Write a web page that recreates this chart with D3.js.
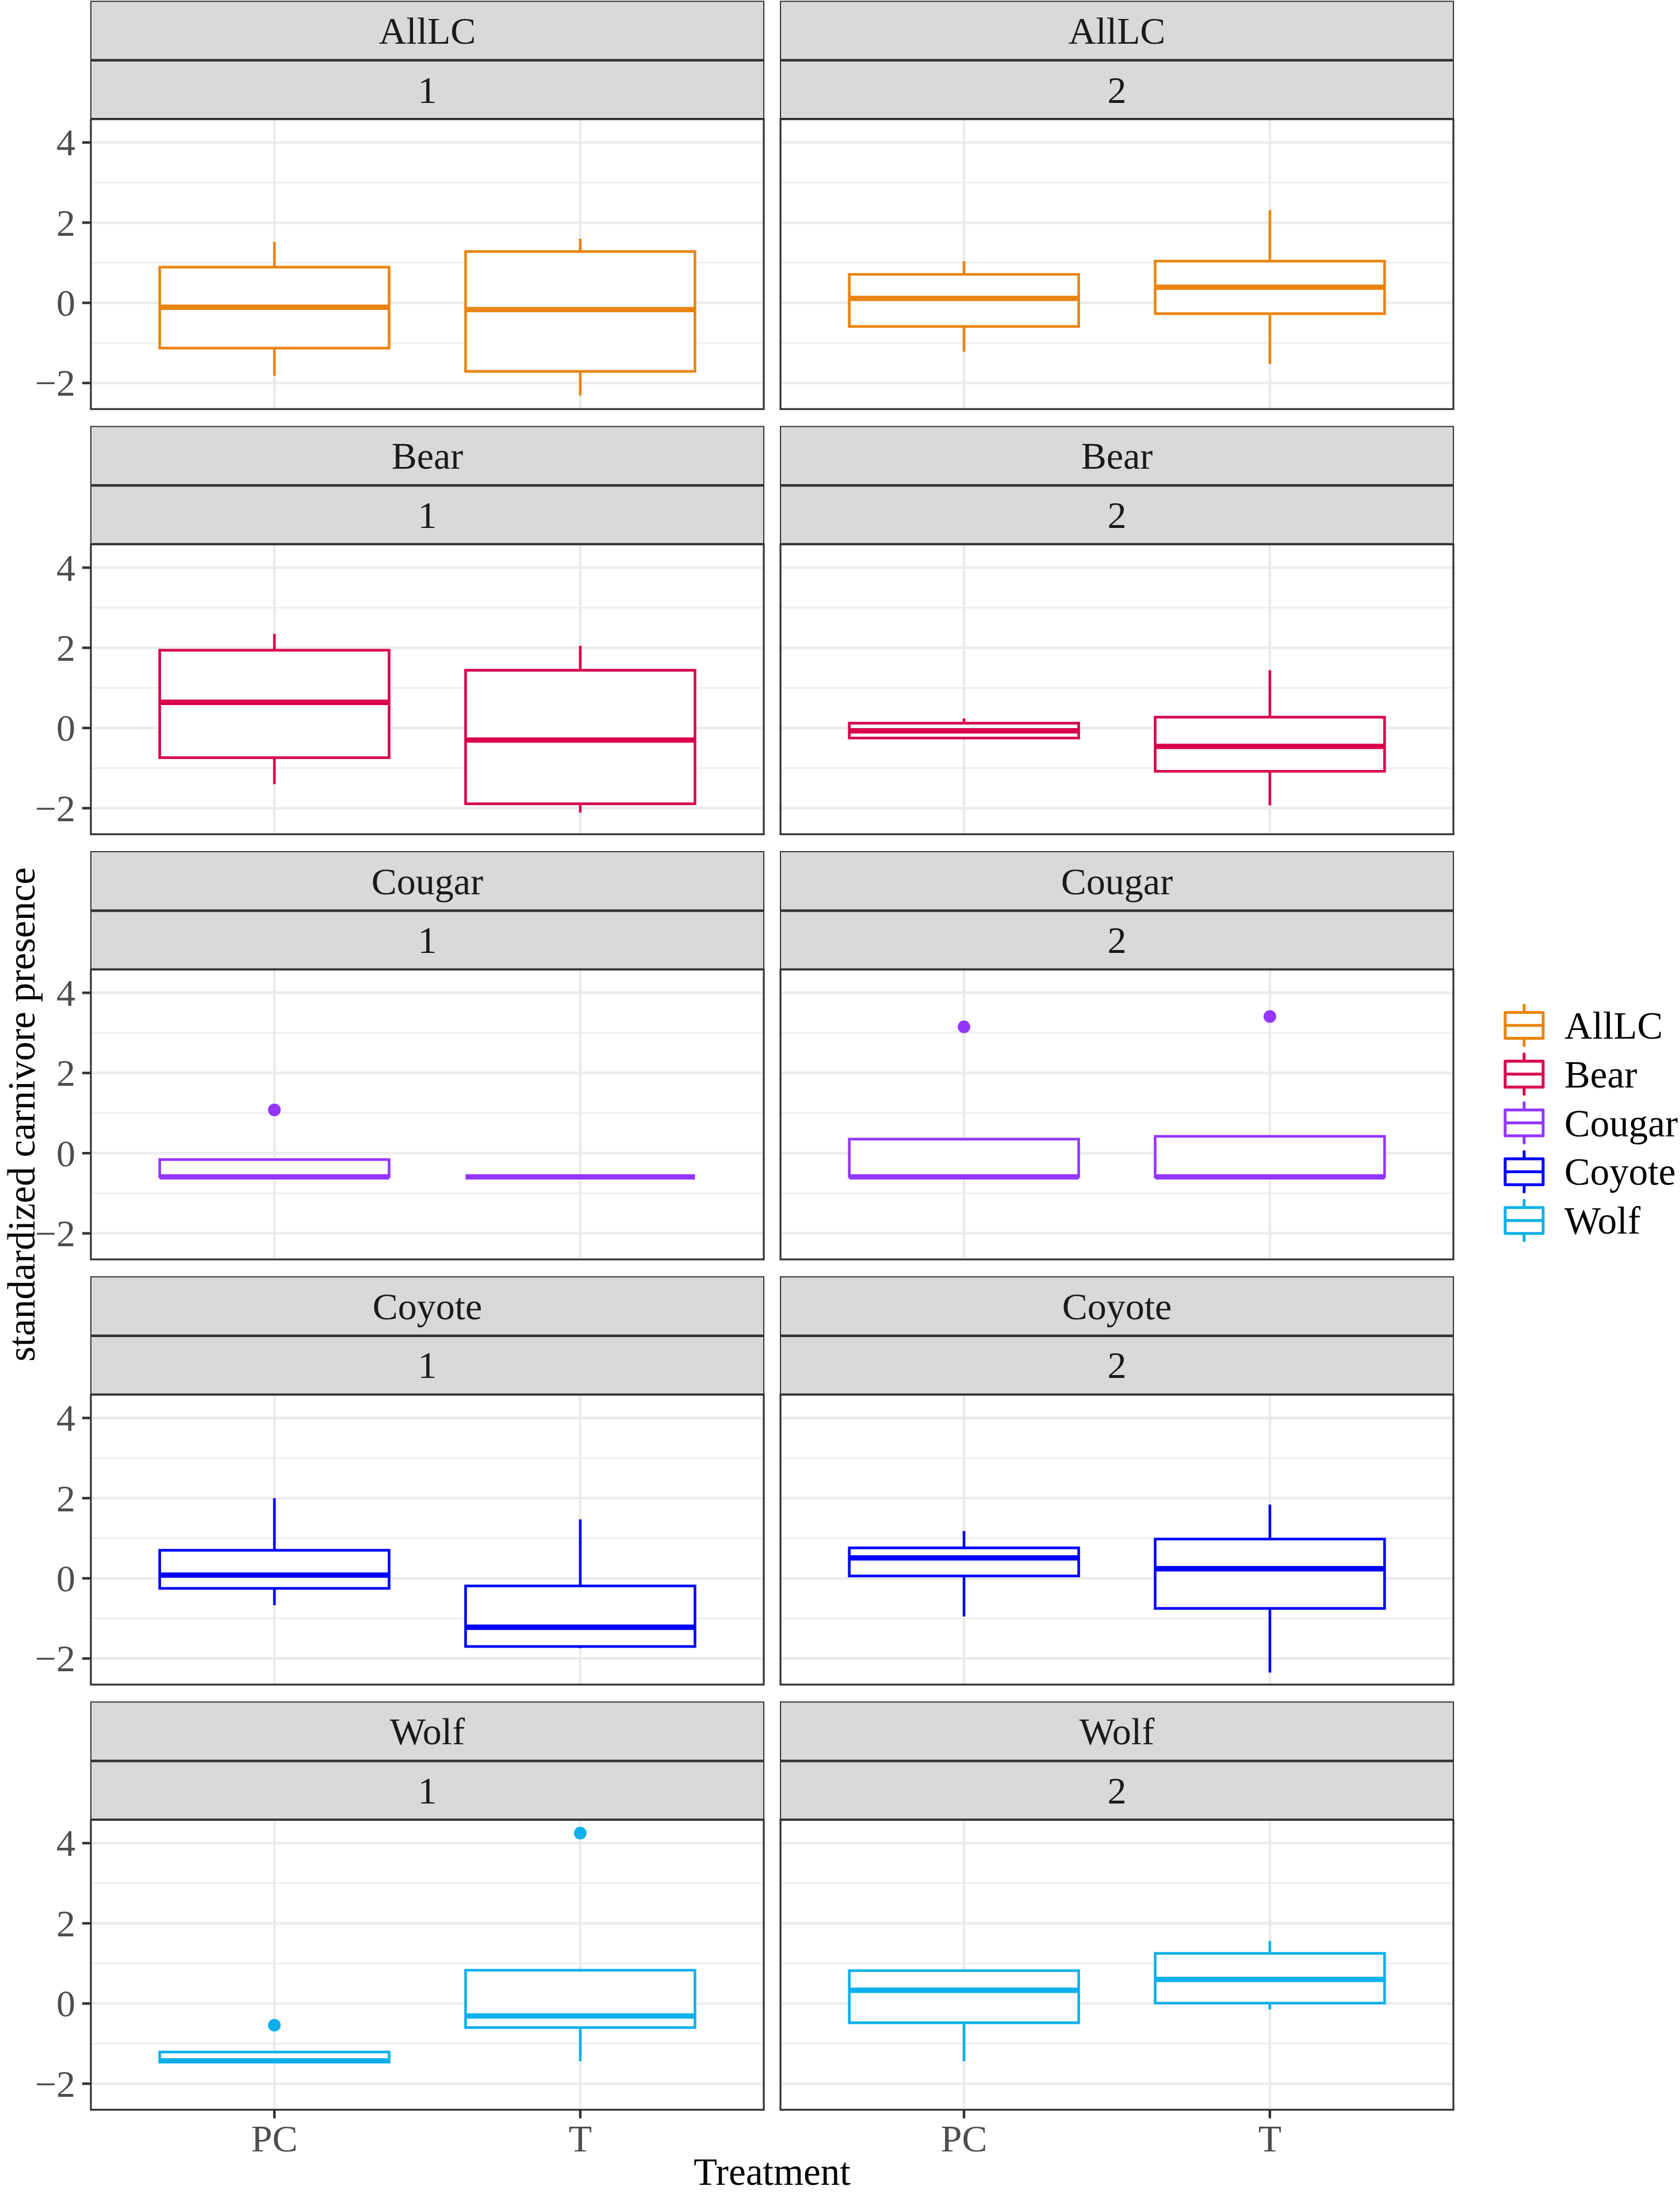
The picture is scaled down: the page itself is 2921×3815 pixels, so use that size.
<!DOCTYPE html>
<html>
<head>
<meta charset="utf-8">
<script src="https://cdn.jsdelivr.net/npm/d3@7/dist/d3.min.js"></script>
<style>
  html, body { margin: 0; padding: 0; background: #ffffff; }
  svg { display: block; }
</style>
</head>
<body>
<script>
// ---------------- data ----------------
const species = ["AllLC", "Bear", "Cougar", "Coyote", "Wolf"];
const periods = ["1", "2"];
const treatments = ["PC", "T"];
const speciesColors = ["#EA8410", "#D9004C", "#9336FD", "#0000FF", "#0DB0EA"];
const yTicks = [-2, 0, 2, 4];
const yMinorTicks = [-1, 1, 3];
const yLimits = [-2.65, 4.58];

// box statistics, order per species: period1-PC, period1-T, period2-PC, period2-T
const upperWhisker = [
   1.52,  1.60,  1.04,  2.31,   // AllLC
   2.35,  2.05,  0.24,  1.44,   // Bear
  -0.16, -0.59,  0.35,  0.42,   // Cougar
   2.00,  1.47,  1.18,  1.84,   // Coyote
  -1.21,  0.83,  0.82,  1.56    // Wolf
];
const q3 = [
   0.89,  1.28,  0.71,  1.04,
   1.94,  1.44,  0.12,  0.27,
  -0.16, -0.59,  0.35,  0.42,
   0.70, -0.19,  0.76,  0.98,
  -1.21,  0.83,  0.82,  1.25
];
const median = [
  -0.11, -0.17,  0.11,  0.39,
   0.64, -0.30, -0.07, -0.46,
  -0.59, -0.59, -0.59, -0.59,
   0.08, -1.22,  0.51,  0.24,
  -1.43, -0.31,  0.33,  0.60
];
const q1 = [
  -1.13, -1.71, -0.59, -0.27,
  -0.74, -1.89, -0.25, -1.08,
  -0.59, -0.59, -0.59, -0.59,
  -0.25, -1.70,  0.06, -0.75,
  -1.46, -0.60, -0.48,  0.01
];
const lowerWhisker = [
  -1.82, -2.31, -1.22, -1.53,
  -1.40, -2.11, -0.28, -1.93,
  -0.59, -0.59, -0.59, -0.59,
  -0.67, -1.74, -0.95, -2.35,
  -1.46, -1.44, -1.44, -0.15
];
// outliers
const outlierSpecies   = ["Cougar", "Cougar", "Cougar", "Wolf", "Wolf"];
const outlierPeriod    = ["1", "2", "2", "1", "1"];
const outlierTreatment = ["PC", "PC", "T", "PC", "T"];
const outlierValue     = [1.08, 3.15, 3.41, -0.54, 4.25];

const yTitle = "standardized carnivore presence";
const xTitle = "Treatment";

// ---------------- layout ----------------
const W = 2921, H = 3815;
const FONT = "'Liberation Serif', 'Times New Roman', Times, serif";
const colX = [158, 1357];
const panelW = 1170;
const rowTop0 = 2.3, rowStep = 739.3;
const stripH = 102.5;
const plotH = 504;

const boxes = [];
species.forEach((sp, si) => {
  periods.forEach((pe, pi) => {
    treatments.forEach((tr, ti) => {
      const k = si * 4 + pi * 2 + ti;
      boxes.push({ species: sp, period: pe, treatment: tr, color: speciesColors[si],
        lower: lowerWhisker[k], q1: q1[k], median: median[k], q3: q3[k], upper: upperWhisker[k] });
    });
  });
});
const outliers = outlierValue.map((v, i) => ({
  species: outlierSpecies[i], period: outlierPeriod[i], treatment: outlierTreatment[i], value: v,
  color: speciesColors[species.indexOf(outlierSpecies[i])]
}));

const svg = d3.select("body").append("svg")
  .attr("width", W).attr("height", H)
  .attr("viewBox", `0 0 ${W} ${H}`)
  .style("font-family", FONT);

svg.append("rect").attr("width", W).attr("height", H).attr("fill", "#ffffff");

const x = d3.scalePoint().domain(treatments).range([0, panelW]).padding(0.6);
const boxW = x.step() * 0.75;
const y = d3.scaleLinear().domain(yLimits).range([plotH, 0]);

const minus = s => String(s).replace("-", "\u2212");

species.forEach((sp, si) => {
  periods.forEach((pe, pi) => {
    const top = rowTop0 + si * rowStep;
    const gx = colX[pi];
    const g = svg.append("g").attr("transform", `translate(${gx},${top})`);

    // strips
    const strips = [sp, pe];
    strips.forEach((label, li) => {
      g.append("rect")
        .attr("x", 0).attr("y", li * stripH)
        .attr("width", panelW).attr("height", stripH)
        .attr("fill", "#D9D9D9").attr("stroke", "#333333").attr("stroke-width", 2);
      g.append("text")
        .attr("x", panelW / 2).attr("y", li * stripH + stripH / 2 + 22.5)
        .attr("text-anchor", "middle")
        .attr("font-size", 66).attr("fill", "#1A1A1A")
        .text(label);
    });
    // thicker separators
    [stripH, 2 * stripH].forEach(yy => {
      g.append("line").attr("x1", 0).attr("x2", panelW).attr("y1", yy).attr("y2", yy)
        .attr("stroke", "#333333").attr("stroke-width", 4.5);
    });

    // plot panel
    const p = g.append("g").attr("transform", `translate(0,${2 * stripH})`);
    p.append("rect").attr("width", panelW).attr("height", plotH).attr("fill", "#ffffff");

    p.selectAll(".minor").data(yMinorTicks).enter().append("line")
      .attr("x1", 0).attr("x2", panelW)
      .attr("y1", d => y(d)).attr("y2", d => y(d))
      .attr("stroke", "#EBEBEB").attr("stroke-width", 2.3);
    p.selectAll(".majorY").data(yTicks).enter().append("line")
      .attr("x1", 0).attr("x2", panelW)
      .attr("y1", d => y(d)).attr("y2", d => y(d))
      .attr("stroke", "#EBEBEB").attr("stroke-width", 4.6);
    p.selectAll(".majorX").data(treatments).enter().append("line")
      .attr("x1", d => x(d)).attr("x2", d => x(d))
      .attr("y1", 0).attr("y2", plotH)
      .attr("stroke", "#EBEBEB").attr("stroke-width", 4.6);

    const bData = boxes.filter(b => b.species === sp && b.period === pe);
    const bg = p.selectAll(".box").data(bData).enter().append("g");
    bg.append("line")
      .attr("x1", d => x(d.treatment)).attr("x2", d => x(d.treatment))
      .attr("y1", d => y(d.q3)).attr("y2", d => y(d.upper))
      .attr("stroke", d => d.color).attr("stroke-width", 4.6);
    bg.append("line")
      .attr("x1", d => x(d.treatment)).attr("x2", d => x(d.treatment))
      .attr("y1", d => y(d.q1)).attr("y2", d => y(d.lower))
      .attr("stroke", d => d.color).attr("stroke-width", 4.6);
    bg.append("rect")
      .attr("x", d => x(d.treatment) - boxW / 2)
      .attr("y", d => y(d.q3))
      .attr("width", boxW)
      .attr("height", d => Math.max(0, y(d.q1) - y(d.q3)))
      .attr("fill", "#ffffff")
      .attr("stroke", d => d.color).attr("stroke-width", 4.6);
    bg.append("line")
      .attr("x1", d => x(d.treatment) - boxW / 2).attr("x2", d => x(d.treatment) + boxW / 2)
      .attr("y1", d => y(d.median)).attr("y2", d => y(d.median))
      .attr("stroke", d => d.color).attr("stroke-width", 9.3);

    const oData = outliers.filter(o => o.species === sp && o.period === pe);
    p.selectAll(".out").data(oData).enter().append("circle")
      .attr("cx", d => x(d.treatment)).attr("cy", d => y(d.value))
      .attr("r", 11).attr("fill", d => d.color);

    // panel border
    p.append("rect").attr("width", panelW).attr("height", plotH)
      .attr("fill", "none").attr("stroke", "#333333").attr("stroke-width", 3.2);

    // y axis (left column only)
    if (pi === 0) {
      const ya = p.append("g");
      ya.selectAll("line").data(yTicks).enter().append("line")
        .attr("x1", -15).attr("x2", 0)
        .attr("y1", d => y(d)).attr("y2", d => y(d))
        .attr("stroke", "#333333").attr("stroke-width", 4.4);
      ya.selectAll("text").data(yTicks).enter().append("text")
        .attr("x", -27).attr("y", d => y(d) + 22.5)
        .attr("text-anchor", "end")
        .attr("font-size", 66).attr("fill", "#4D4D4D")
        .text(d => minus(d));
    }
    // x axis (bottom row only)
    if (si === species.length - 1) {
      const xa = p.append("g");
      xa.selectAll("line").data(treatments).enter().append("line")
        .attr("x1", d => x(d)).attr("x2", d => x(d))
        .attr("y1", plotH).attr("y2", plotH + 15)
        .attr("stroke", "#333333").attr("stroke-width", 4.4);
      xa.selectAll("text").data(treatments).enter().append("text")
        .attr("x", d => x(d)).attr("y", plotH + 72)
        .attr("text-anchor", "middle")
        .attr("font-size", 66).attr("fill", "#4D4D4D")
        .text(d => d);
    }
  });
});

// axis titles
const plotsTop = rowTop0 + 2 * stripH;
const plotsBottom = rowTop0 + (species.length - 1) * rowStep + 2 * stripH + plotH;
svg.append("text")
  .attr("transform", `translate(60,${(plotsTop + plotsBottom) / 2}) rotate(-90)`)
  .attr("text-anchor", "middle")
  .attr("font-size", 67).attr("fill", "#000000")
  .text(yTitle);
svg.append("text")
  .attr("x", (colX[0] + colX[1] + panelW) / 2).attr("y", 3799)
  .attr("text-anchor", "middle")
  .attr("font-size", 67).attr("fill", "#000000")
  .text(xTitle);

// legend
const legendY0 = 1783, legendStep = 84.8;
const keyX = 2617, keyW = 66, keyBoxH = 45, keyWhisk = 35;
const lg = svg.append("g");
const items = lg.selectAll(".item").data(species).enter().append("g")
  .attr("transform", (d, i) => `translate(0,${legendY0 + i * legendStep})`);
items.append("line")
  .attr("x1", keyX + keyW / 2).attr("x2", keyX + keyW / 2)
  .attr("y1", -keyWhisk).attr("y2", keyWhisk)
  .attr("stroke", (d, i) => speciesColors[i]).attr("stroke-width", 5)
  .attr("stroke-linecap", "round");
items.append("rect")
  .attr("x", keyX).attr("y", -keyBoxH / 2)
  .attr("width", keyW).attr("height", keyBoxH)
  .attr("fill", "#ffffff")
  .attr("stroke", (d, i) => speciesColors[i]).attr("stroke-width", 5)
  .attr("stroke-linejoin", "round");
items.append("line")
  .attr("x1", keyX).attr("x2", keyX + keyW)
  .attr("y1", 0).attr("y2", 0)
  .attr("stroke", (d, i) => speciesColors[i]).attr("stroke-width", 5);
items.append("text")
  .attr("x", 2720).attr("y", 23)
  .attr("font-size", 67).attr("fill", "#000000")
  .text(d => d);
</script>
</body>
</html>
